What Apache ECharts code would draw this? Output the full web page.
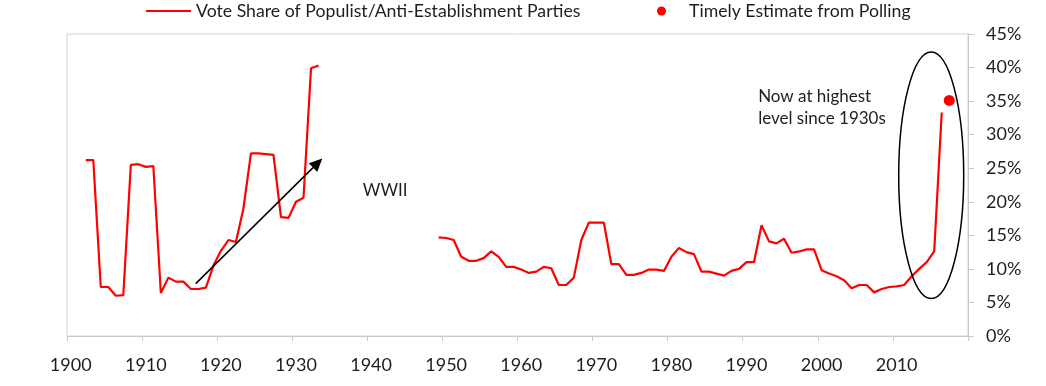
<!DOCTYPE html>
<html>
<head>
<meta charset="utf-8">
<script src="https://cdn.jsdelivr.net/npm/echarts@6/dist/echarts.min.js"></script>
<style>
  html, body { margin: 0; padding: 0; background: #fff; }
  #chart { width: 1046px; height: 386px; }
</style>
</head>
<body>
<div id="chart"></div>
<script>
// ---- Data ----
const firstYear = 1900;
const lastYear = 2019;
const yTicks = [0, 5, 10, 15, 20, 25, 30, 35, 40, 45];

const segment1Start = 1902;
const segment1Values = [26.2, 26.2, 7.3, 7.3, 6.0, 6.1, 25.5, 25.6, 25.2, 25.3,
  6.4, 8.7, 8.1, 8.1, 7.0, 7.0, 7.2, 10.5, 12.7, 14.3, 14.0, 19.0, 27.2, 27.2,
  27.1, 27.0, 17.7, 17.6, 20.0, 20.6, 39.9, 40.3];

const segment2Start = 1949;
const segment2Values = [14.7, 14.6, 14.3, 11.8, 11.2, 11.2, 11.6, 12.6, 11.8, 10.3,
  10.3, 9.9, 9.4, 9.6, 10.3, 10.1, 7.6, 7.6, 8.7, 14.3, 16.9, 16.9, 16.9, 10.7,
  10.7, 9.1, 9.1, 9.4, 9.9, 9.9, 9.7, 11.8, 13.1, 12.5, 12.2, 9.6, 9.6, 9.3, 9.0,
  9.7, 10.0, 11.0, 11.0, 16.5, 14.1, 13.8, 14.5, 12.4, 12.6, 12.9, 12.9, 9.8, 9.3,
  8.9, 8.3, 7.1, 7.6, 7.6, 6.5, 7.0, 7.3, 7.4, 7.6, 8.9, 10.0, 11.0, 12.6, 33.3];

const pollingYear = 2017;
const pollingValue = 35.1;

const seriesNames = ['Vote Share of Populist/Anti-Establishment Parties', 'Timely Estimate from Polling'];

// ---- Build ----
const categories = [];
for (let y = firstYear; y <= lastYear; y++) categories.push(String(y));
const lineData = categories.map(() => null);
segment1Values.forEach((v, i) => { lineData[segment1Start - firstYear + i] = v; });
segment2Values.forEach((v, i) => { lineData[segment2Start - firstYear + i] = v; });
const dotData = categories.map(() => null);
dotData[pollingYear - firstYear] = pollingValue;

const FONT = 'Lato';
const TXT = '#1e1e1e';
const AXIS = '#c9c9c9';

const legendBase = {
  top: 2,
  padding: 0,
  itemWidth: 45,
  itemHeight: 9,
  textStyle: { fontFamily: FONT, fontSize: 17.7, color: TXT }
};

const chart = echarts.init(document.getElementById('chart'), null, { renderer: 'canvas' });
chart.setOption({
  animation: false,
  backgroundColor: '#fff',
  textStyle: { fontFamily: FONT },
  legend: [
    Object.assign({}, legendBase, { left: 146, data: [{ name: seriesNames[0], icon: 'path://M0,0H45V2.2H0Z' }] }),
    Object.assign({}, legendBase, { left: 639, data: [{ name: seriesNames[1], icon: 'path://M0,0L0,0M45,9L45,9M18,4.5A4.5,4.5,0,1,0,27,4.5A4.5,4.5,0,1,0,18,4.5Z' }] })
  ],
  grid: { left: 67, right: 78, top: 34, bottom: 50, show: true, borderColor: '#d4d4d4', borderWidth: 1 },
  xAxis: {
    type: 'category',
    data: categories,
    boundaryGap: true,
    axisLine: { show: true, lineStyle: { color: AXIS, width: 1 } },
    axisTick: { show: true, interval: 9, length: 5, lineStyle: { color: AXIS } },
    axisLabel: { interval: 9, fontFamily: FONT, fontSize: 18, color: TXT, margin: 20 },
    splitLine: { show: false }
  },
  yAxis: {
    type: 'value',
    position: 'right',
    min: yTicks[0],
    max: yTicks[yTicks.length - 1],
    interval: 5,
    axisLine: { show: true, lineStyle: { color: AXIS, width: 1 } },
    axisTick: { show: true, length: 6, lineStyle: { color: AXIS } },
    axisLabel: { fontFamily: FONT, fontSize: 18, color: TXT, margin: 18, formatter: '{value}%' },
    splitLine: { show: false }
  },
  series: [
    {
      name: seriesNames[0],
      type: 'line',
      data: lineData,
      symbol: 'none',
      connectNulls: false,
      lineStyle: { color: '#ff0000', width: 2.2 },
      itemStyle: { color: '#ff0000' },
      z: 3
    },
    {
      name: seriesNames[1],
      type: 'scatter',
      data: dotData,
      symbol: 'circle',
      symbolSize: 11,
      itemStyle: { color: '#ff0000', opacity: 1 },
      z: 4
    }
  ]
});

// ---- Annotations (anchored in data space) ----
const x0 = chart.convertToPixel({ xAxisIndex: 0 }, categories[0]);
const step = chart.convertToPixel({ xAxisIndex: 0 }, categories[1]) - x0;
const X = yr => x0 + (yr - firstYear - 0.5) * step;
const Y = v => chart.convertToPixel({ yAxisIndex: 0 }, v);

const ax1 = X(1917.15), ay1 = Y(7.8), ax2 = X(1934.0), ay2 = Y(26.45);
const ang = Math.atan2(ay2 - ay1, ax2 - ax1);
const headLen = 13, headHalf = 6;
const bx = ax2 - headLen * Math.cos(ang), by = ay2 - headLen * Math.sin(ang);
const px = -Math.sin(ang) * headHalf, py = Math.cos(ang) * headHalf;

chart.setOption({
  graphic: [
    { type: 'line', shape: { x1: ax1, y1: ay1, x2: bx, y2: by }, style: { stroke: '#000', lineWidth: 1.5 }, z: 10 },
    { type: 'polygon', shape: { points: [[ax2, ay2], [bx + px, by + py], [bx - px, by - py]] }, style: { fill: '#000' }, z: 10 },
    { type: 'text', x: X(1939.4), y: Y(21.7), style: { text: 'WWII', font: '17px Lato', fill: TXT, textVerticalAlign: 'middle' }, z: 10 },
    { type: 'text', x: X(1992.05), y: Y(37.3), style: { text: 'Now at highest\nlevel since 1930s', font: '17px Lato', lineHeight: 22, fill: TXT, textVerticalAlign: 'top' }, z: 10 },
    { type: 'ellipse', shape: { cx: X(2015.1), cy: Y(23.95), rx: 32.5, ry: 123.3 }, style: { fill: 'none', stroke: '#000', lineWidth: 1.5 }, z: 10 }
  ]
});
</script>
</body>
</html>
